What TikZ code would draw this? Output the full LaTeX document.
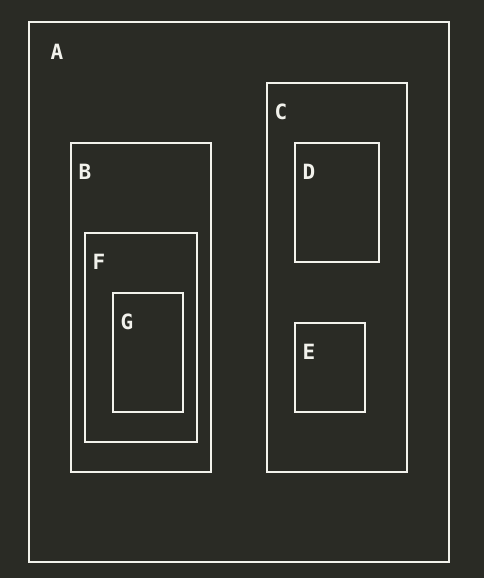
\documentclass[tikz,border=0pt]{standalone}
\usepackage{fontspec}
\setmainfont{DejaVu Sans Mono}
\definecolor{bg}{HTML}{2A2B25}
\definecolor{fg}{HTML}{F2F2EC}
\begin{document}
\begin{tikzpicture}[x=1pt,y=-1pt,
  box/.style={draw=fg,line width=2.2pt},
  lbl/.style={text=fg,font=\bfseries\fontsize{21}{21}\selectfont,anchor=center,inner sep=0pt}]
\fill[bg] (0,0) rectangle (484,578);
\useasboundingbox (0,0) rectangle (484,578);
\draw[box] (29,22) rectangle (449,562);
\node[lbl] (la) at (57,52) {A};
\draw[box] (71,143) rectangle (211,472);
\node[lbl] (lb) at (85,172) {B};
\draw[box] (267,83) rectangle (407,472);
\node[lbl] (lc) at (281,112) {C};
\draw[box] (295,143) rectangle (379,262);
\node[lbl] (ld) at (309,172) {D};
\draw[box] (295,323) rectangle (365,412);
\node[lbl] (le) at (309,352) {E};
\draw[box] (85,233) rectangle (197,442);
\node[lbl] (lf) at (99,262) {F};
\draw[box] (113,293) rectangle (183,412);
\node[lbl] (lg) at (127,322) {G};
\end{tikzpicture}
\end{document}
